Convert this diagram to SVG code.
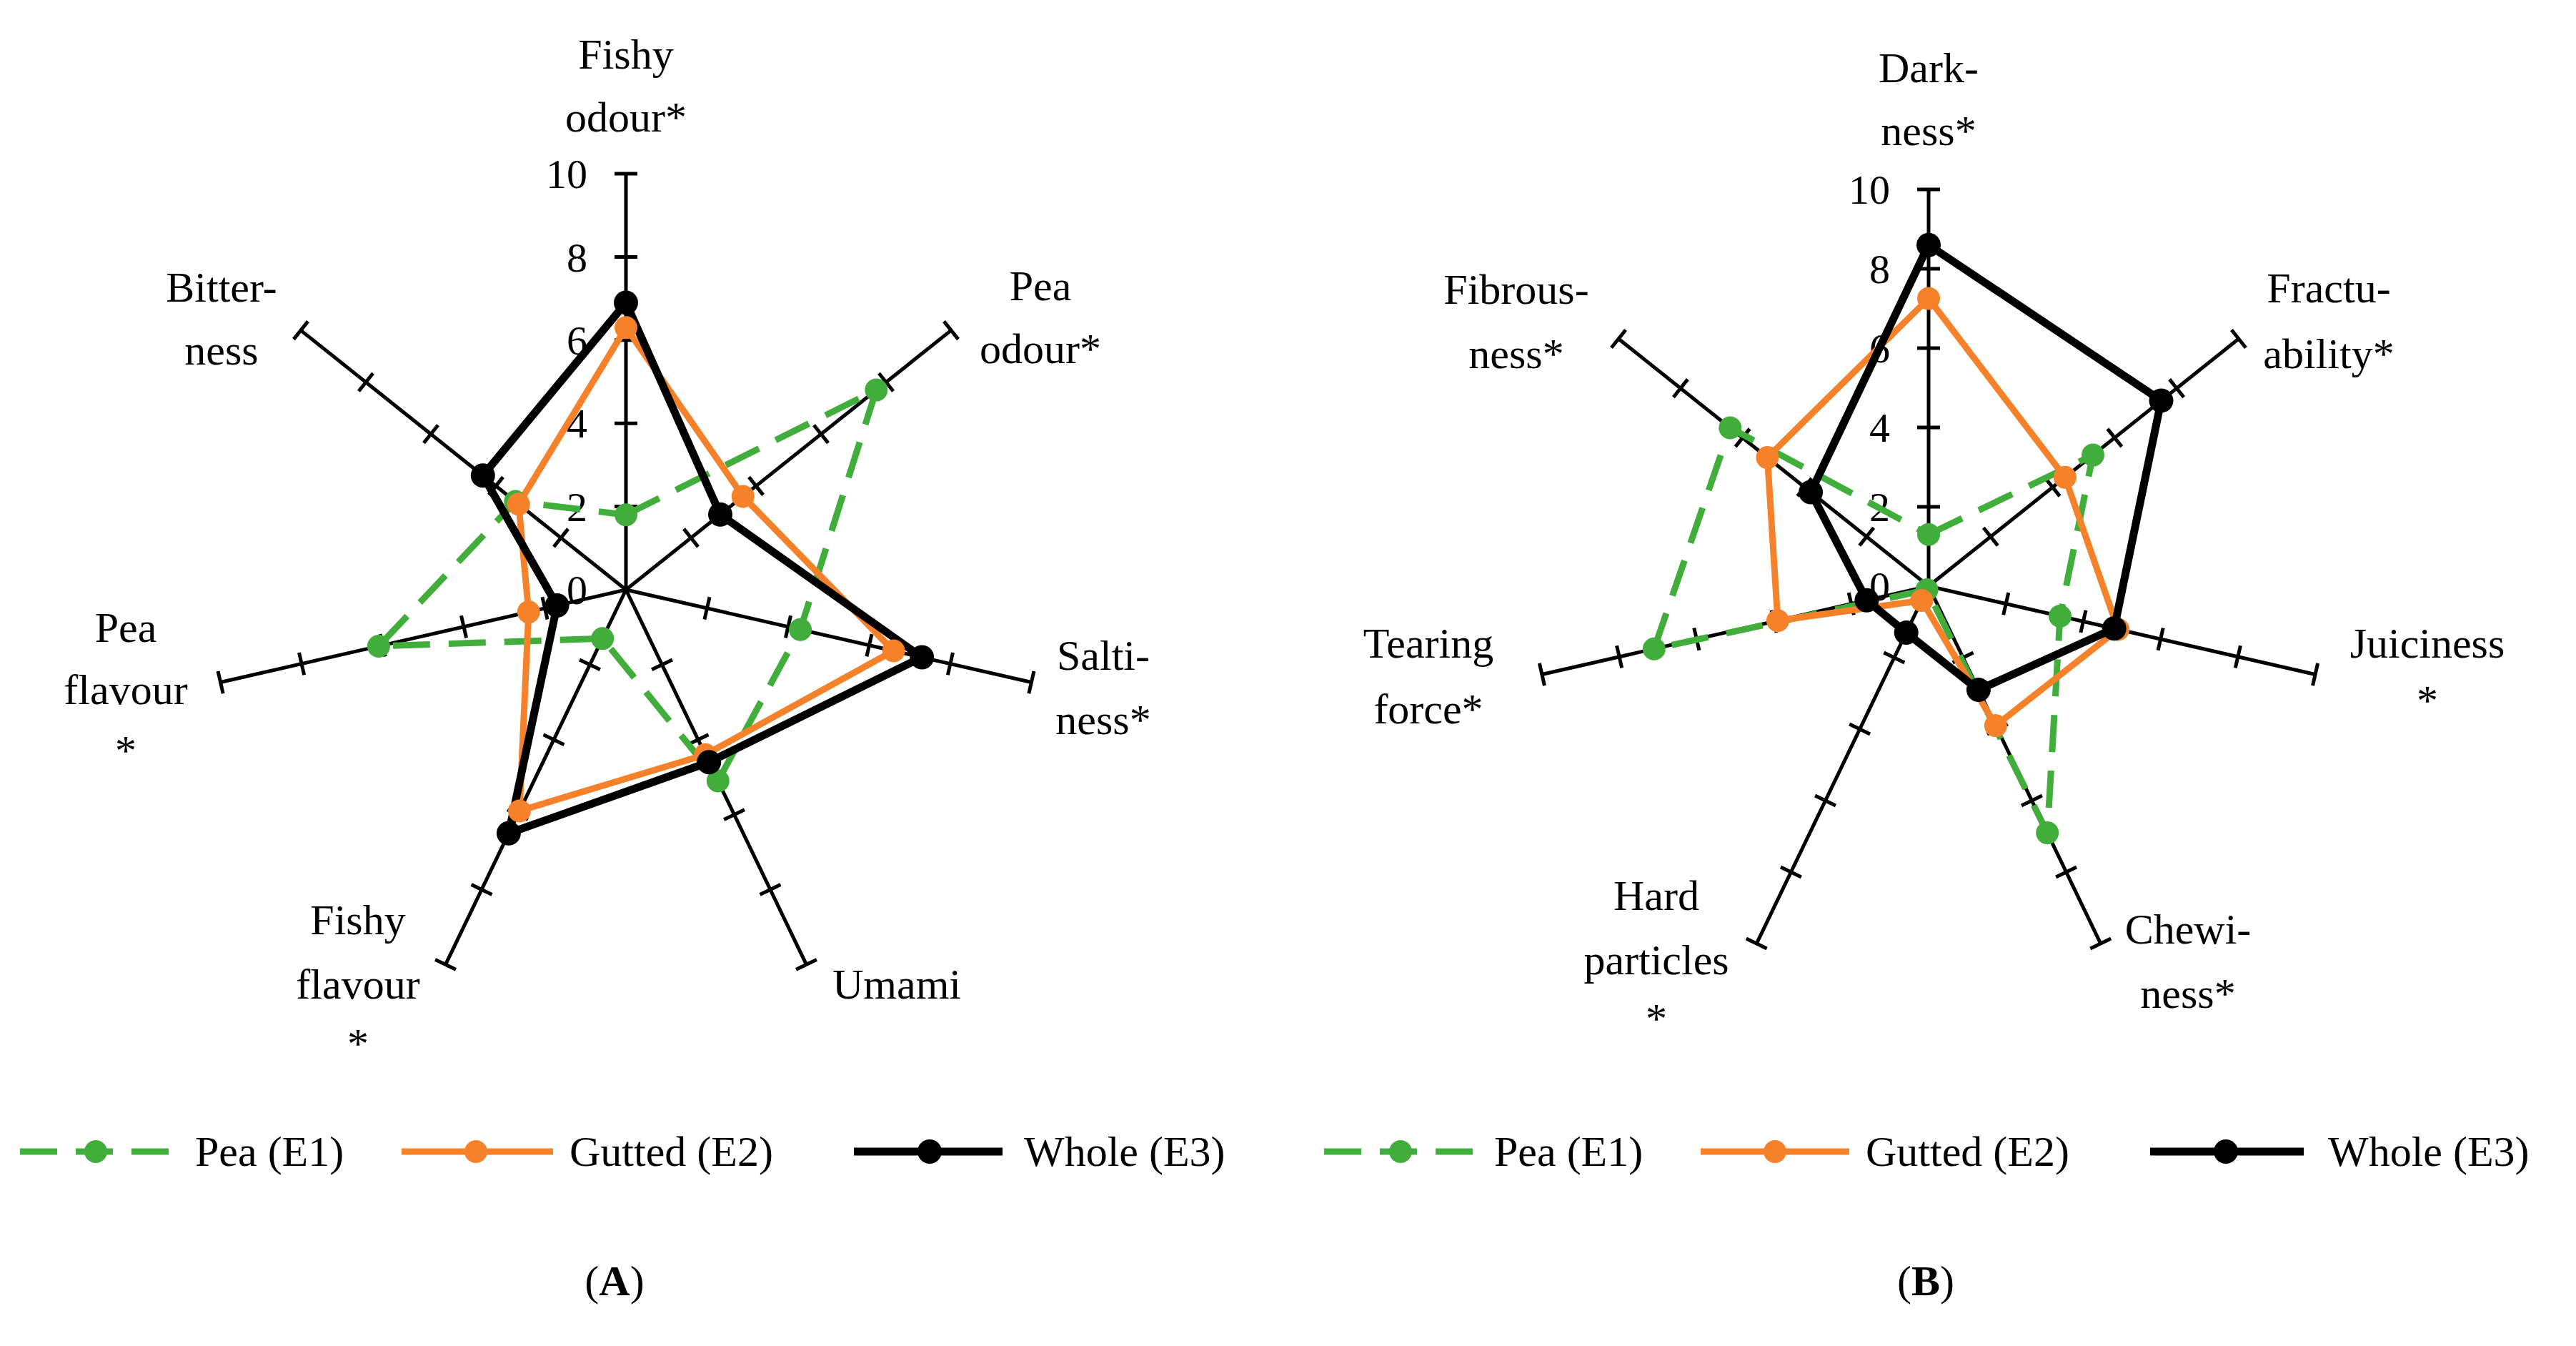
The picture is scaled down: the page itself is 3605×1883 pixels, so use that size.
<svg xmlns="http://www.w3.org/2000/svg" width="3605" height="1883" viewBox="0 0 3605 1883">
<style>
text{font-family:"Liberation Serif","DejaVu Serif",serif;fill:#000}
.lbl{font-size:60px;text-anchor:middle}
.num{font-size:58px;text-anchor:end}
.ax{stroke:#000;stroke-width:5;fill:none}
.g{stroke:#41ad3b;stroke-width:9;fill:none;stroke-dasharray:52 26;stroke-linejoin:round}
.o{stroke:#f5822a;stroke-width:9;fill:none;stroke-linejoin:round}
.k{stroke:#000;stroke-width:11;fill:none;stroke-linejoin:round}
.gd{fill:#41ad3b}.od{fill:#f5822a}.kd{fill:#000}
</style>
<defs>
<g id="axA"><path class="ax" d="M0 0V-582M-16 -116.4H16M-16 -232.8H16M-16 -349.2H16M-16 -465.6H16M-16 -582H16"/></g>
<g id="axB"><path class="ax" d="M0 0V-555M-16 -111H16M-16 -222H16M-16 -333H16M-16 -444H16M-16 -555H16"/></g>
</defs>
<g id="chartA-axes" transform="translate(876,825)">
<use href="#axA"/><use href="#axA" transform="rotate(51.43)"/><use href="#axA" transform="rotate(102.86)"/><use href="#axA" transform="rotate(154.29)"/><use href="#axA" transform="rotate(205.71)"/><use href="#axA" transform="rotate(257.14)"/><use href="#axA" transform="rotate(308.57)"/>
</g>
<g id="chartA-ticks">
<text class="num" x="822" y="845">0</text><text class="num" x="822" y="729">2</text><text class="num" x="822" y="612">4</text><text class="num" x="822" y="496">6</text><text class="num" x="822" y="380">8</text><text class="num" x="822" y="263">10</text>
</g>
<g id="chartB-axes" transform="translate(2699,820)">
<use href="#axB"/><use href="#axB" transform="rotate(51.43)"/><use href="#axB" transform="rotate(102.86)"/><use href="#axB" transform="rotate(154.29)"/><use href="#axB" transform="rotate(205.71)"/><use href="#axB" transform="rotate(257.14)"/><use href="#axB" transform="rotate(308.57)"/>
</g>
<g id="chartB-ticks">
<text class="num" x="2645" y="840">0</text><text class="num" x="2645" y="729">2</text><text class="num" x="2645" y="618">4</text><text class="num" x="2645" y="507">6</text><text class="num" x="2645" y="396">8</text><text class="num" x="2645" y="285">10</text>
</g>
<g id="connectors">
<polygon class="g" points="876,720.2 1226.3,545.6 1120,880.7 1004.8,1092.4 843.2,893.2 529.9,904 721.3,701.6"/>
<polygon class="o" points="876,458.3 1039.8,694.4 1250.5,910.5 987.1,1055.7 727,1134.4 739.8,856.1 725.8,705.2"/>
<polygon class="k" points="876,423.4 1008,719.8 1290.2,919.5 992.2,1066.2 711.9,1165.8 779.6,847 675.8,665.3"/>
<polygon class="g" points="2699,747.8 2929,636.6 2883,862 2865.2,1165.1 2696.6,825 2314.8,907.7 2421.3,598.5"/>
<polygon class="o" points="2699,417.6 2889.9,667.7 2964.2,880.5 2792.9,1015.1 2689.4,840 2487.9,868.2 2473.4,640.1"/>
<polygon class="k" points="2699,342.7 3024.5,560.4 2958.7,879.3 2768.9,965.1 2667.7,885.1 2612.4,839.8 2534.1,688.5"/>
</g>
<g id="markers">
<g class="gd"><circle cx="876" cy="720.2" r="16"/><circle cx="1226.3" cy="545.6" r="16"/><circle cx="1120" cy="880.7" r="16"/><circle cx="1004.8" cy="1092.4" r="16"/><circle cx="843.2" cy="893.2" r="16"/><circle cx="529.9" cy="904" r="16"/><circle cx="721.3" cy="701.6" r="16"/>
<circle cx="2699" cy="747.8" r="16"/><circle cx="2929" cy="636.6" r="16"/><circle cx="2883" cy="862" r="16"/><circle cx="2865.2" cy="1165.1" r="16"/><circle cx="2696.6" cy="825" r="16"/><circle cx="2314.8" cy="907.7" r="16"/><circle cx="2421.3" cy="598.5" r="16"/></g>
<g class="od"><circle cx="876" cy="458.3" r="16"/><circle cx="1039.8" cy="694.4" r="16"/><circle cx="1250.5" cy="910.5" r="16"/><circle cx="987.1" cy="1055.7" r="16"/><circle cx="727" cy="1134.4" r="16"/><circle cx="739.8" cy="856.1" r="16"/><circle cx="725.8" cy="705.2" r="16"/>
<circle cx="2699" cy="417.6" r="16"/><circle cx="2889.9" cy="667.7" r="16"/><circle cx="2964.2" cy="880.5" r="16"/><circle cx="2792.9" cy="1015.1" r="16"/><circle cx="2689.4" cy="840" r="16"/><circle cx="2487.9" cy="868.2" r="16"/><circle cx="2473.4" cy="640.1" r="16"/></g>
<g class="kd"><circle cx="876" cy="423.4" r="17"/><circle cx="1008" cy="719.8" r="17"/><circle cx="1290.2" cy="919.5" r="17"/><circle cx="992.2" cy="1066.2" r="17"/><circle cx="711.9" cy="1165.8" r="17"/><circle cx="779.6" cy="847" r="17"/><circle cx="675.8" cy="665.3" r="17"/>
<circle cx="2699" cy="342.7" r="17"/><circle cx="3024.5" cy="560.4" r="17"/><circle cx="2958.7" cy="879.3" r="17"/><circle cx="2768.9" cy="965.1" r="17"/><circle cx="2667.7" cy="885.1" r="17"/><circle cx="2612.4" cy="839.8" r="17"/><circle cx="2534.1" cy="688.5" r="17"/></g>
</g>
<g id="labelsA">
<text class="lbl" x="876" y="96">Fishy</text><text class="lbl" x="876" y="184">odour*</text>
<text class="lbl" x="1456" y="420">Pea</text><text class="lbl" x="1456" y="508">odour*</text>
<text class="lbl" x="310" y="422">Bitter-</text><text class="lbl" x="310" y="510">ness</text>
<text class="lbl" x="1544" y="937">Salti-</text><text class="lbl" x="1544" y="1027">ness*</text>
<text class="lbl" x="176" y="898">Pea</text><text class="lbl" x="176" y="985">flavour</text><text class="lbl" x="176" y="1070">*</text>
<text class="lbl" x="501" y="1307">Fishy</text><text class="lbl" x="501" y="1397">flavour</text><text class="lbl" x="501" y="1480">*</text>
<text class="lbl" x="1255" y="1397">Umami</text>
</g>
<g id="labelsB">
<text class="lbl" x="2699" y="115">Dark-</text><text class="lbl" x="2699" y="203">ness*</text>
<text class="lbl" x="3259" y="423">Fractu-</text><text class="lbl" x="3259" y="515">ability*</text>
<text class="lbl" x="2122" y="425">Fibrous-</text><text class="lbl" x="2122" y="515">ness*</text>
<text class="lbl" x="3397" y="920">Juiciness</text><text class="lbl" x="3397" y="1000">*</text>
<text class="lbl" x="1999" y="920">Tearing</text><text class="lbl" x="1999" y="1012">force*</text>
<text class="lbl" x="2318" y="1273">Hard</text><text class="lbl" x="2318" y="1363">particles</text><text class="lbl" x="2318" y="1445">*</text>
<text class="lbl" x="3062" y="1320">Chewi-</text><text class="lbl" x="3062" y="1410">ness*</text>
</g>
<g id="legendA">
<line class="g" x1="28" y1="1611" x2="243" y2="1611" stroke-dasharray="70 30"/><circle class="gd" cx="134" cy="1611" r="16"/><text x="273" y="1631" font-size="60">Pea (E1)</text>
<line class="o" x1="562" y1="1611" x2="774" y2="1611"/><circle class="od" cx="666" cy="1611" r="16"/><text x="797" y="1631" font-size="60">Gutted (E2)</text>
<line class="k" x1="1195" y1="1611" x2="1403" y2="1611"/><circle class="kd" cx="1301" cy="1611" r="17"/><text x="1433" y="1631" font-size="60">Whole (E3)</text>
</g>
<g id="legendB">
<line class="g" x1="1853" y1="1611" x2="2064" y2="1611" stroke-dasharray="70 30"/><circle class="gd" cx="1960" cy="1611" r="16"/><text x="2091" y="1631" font-size="60">Pea (E1)</text>
<line class="o" x1="2380" y1="1611" x2="2588" y2="1611"/><circle class="od" cx="2484" cy="1611" r="16"/><text x="2611" y="1631" font-size="60">Gutted (E2)</text>
<line class="k" x1="3009" y1="1611" x2="3224" y2="1611"/><circle class="kd" cx="3115" cy="1611" r="17"/><text x="3258" y="1631" font-size="60">Whole (E3)</text>
</g>
<g id="captions">
<text class="lbl" x="860" y="1812">(<tspan font-weight="bold">A</tspan>)</text>
<text class="lbl" x="2695" y="1812">(<tspan font-weight="bold">B</tspan>)</text>
</g>
</svg>
